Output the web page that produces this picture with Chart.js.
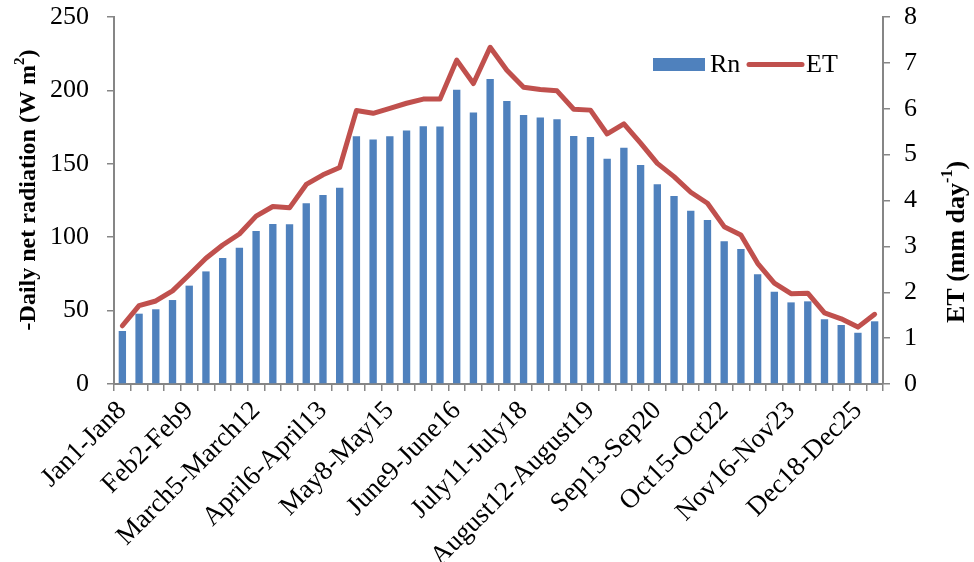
<!DOCTYPE html>
<html>
<head>
<meta charset="utf-8">
<title>Daily net radiation and ET</title>
<script src="https://cdn.jsdelivr.net/npm/chart.js@4.4.1/dist/chart.umd.min.js"></script>
<style>
  html, body { margin: 0; padding: 0; background: #fff; }
  #wrap { width: 974px; height: 562px; position: relative; }
</style>
</head>
<body>
<div id="wrap"><canvas id="c"></canvas></div>
<script>
// 8-day periods of the year
const periods = [
  'Jan1-Jan8', 'Jan9-Jan16', 'Jan17-Jan24', 'Jan25-Feb1',
  'Feb2-Feb9', 'Feb10-Feb17', 'Feb18-Feb25', 'Feb26-March4',
  'March5-March12', 'March13-March20', 'March21-March28', 'March29-April5',
  'April6-April13', 'April14-April21', 'April22-April29', 'April30-May7',
  'May8-May15', 'May16-May23', 'May24-May31', 'June1-June8',
  'June9-June16', 'June17-June24', 'June25-July2', 'July3-July10',
  'July11-July18', 'July19-July26', 'July27-August3', 'August4-August11',
  'August12-August19', 'August20-August27', 'August28-Sep4', 'Sep5-Sep12',
  'Sep13-Sep20', 'Sep21-Sep28', 'Sep29-Oct6', 'Oct7-Oct14',
  'Oct15-Oct22', 'Oct23-Oct30', 'Oct31-Nov7', 'Nov8-Nov15',
  'Nov16-Nov23', 'Nov24-Dec1', 'Dec2-Dec9', 'Dec10-Dec17',
  'Dec18-Dec25', 'Dec26-Dec31'
];

// Daily net radiation, W m-2
const rn = [
  36.1, 47.9, 50.9, 57.2, 67.0, 76.7, 85.8, 92.8,
  104.2, 109.0, 108.8, 123.1, 128.7, 133.7, 168.7, 166.6,
  168.8, 172.7, 175.6, 175.4, 200.4, 185.0, 207.7, 192.7,
  183.2, 181.6, 180.3, 168.9, 168.2, 153.4, 160.9, 149.1,
  136.0, 128.0, 118.0, 111.7, 97.2, 91.9, 74.7, 62.9,
  55.6, 56.3, 44.1, 40.2, 34.9, 42.7
];

// Evapotranspiration, mm day-1
const et = [
  1.27, 1.71, 1.81, 2.03, 2.38, 2.74, 3.03, 3.27,
  3.66, 3.87, 3.84, 4.35, 4.56, 4.72, 5.96, 5.90,
  6.01, 6.12, 6.21, 6.21, 7.06, 6.55, 7.34, 6.84,
  6.47, 6.42, 6.39, 5.99, 5.97, 5.45, 5.67, 5.25,
  4.81, 4.52, 4.18, 3.94, 3.43, 3.25, 2.63, 2.20,
  1.97, 1.98, 1.55, 1.42, 1.24, 1.52
];

// Axis ranges
const rnTicks = { min: 0, max: 250, step: 50 };
const etTicks = { min: 0, max: 8, step: 1 };
const labelEvery = 4;

const FONT = "'Liberation Serif', 'Times New Roman', serif";
const BAR_COLOR = '#4F81BD';
const LINE_COLOR = '#C0504D';
const AXIS_COLOR = '#868686';

// Draws a rotated title made of plain and superscript pieces
function drawRichVertical(ctx, cx, cy, parts, size) {
  ctx.save();
  ctx.translate(cx, cy);
  ctx.rotate(-Math.PI / 2);
  ctx.fillStyle = '#000';
  ctx.textBaseline = 'middle';
  ctx.textAlign = 'left';
  const mainFont = 'bold ' + size + 'px ' + FONT;
  const supFont = 'bold ' + Math.round(size * 0.62) + 'px ' + FONT;
  let total = 0;
  parts.forEach(p => {
    ctx.font = p.sup ? supFont : mainFont;
    p.w = ctx.measureText(p.text).width;
    total += p.w;
  });
  let x = -total / 2;
  parts.forEach(p => {
    ctx.font = p.sup ? supFont : mainFont;
    ctx.fillText(p.text, x, p.sup ? -size * 0.36 : 0);
    x += p.w;
  });
  ctx.restore();
}

// Vertical axes keep their labels outside the plot without extra top/bottom room
function fixedWidth(w) {
  return function (scale) {
    scale.width = w;
    scale.paddingTop = 0;
    scale.paddingBottom = 0;
  };
}

const decorations = {
  id: 'decorations',
  afterDraw(chart) {
    const ctx = chart.ctx;
    const area = chart.chartArea;

    // axis titles
    drawRichVertical(ctx, 29, 190, [
      { text: '-Daily net radiation (W m' },
      { text: '2', sup: true },
      { text: ')' }
    ], 24);
    drawRichVertical(ctx, 957, 242, [
      { text: 'ET (mm day' },
      { text: '-1', sup: true },
      { text: ')' }
    ], 26);

    // legend
    const lx = area.right - 230;
    const ly = area.top + 41;
    ctx.save();
    ctx.fillStyle = BAR_COLOR;
    ctx.fillRect(lx, ly, 52, 13);
    ctx.fillStyle = '#000';
    ctx.font = '26px ' + FONT;
    ctx.textBaseline = 'middle';
    ctx.textAlign = 'left';
    ctx.fillText('Rn', lx + 57, ly + 7);
    ctx.strokeStyle = LINE_COLOR;
    ctx.lineWidth = 5;
    ctx.lineCap = 'round';
    ctx.beginPath();
    ctx.moveTo(lx + 96, ly + 6.5);
    ctx.lineTo(lx + 149, ly + 6.5);
    ctx.stroke();
    ctx.fillText('ET', lx + 153, ly + 7);
    ctx.restore();
  }
};

new Chart(document.getElementById('c'), {
  type: 'bar',
  data: {
    labels: periods,
    datasets: [
      {
        type: 'line',
        label: 'ET',
        data: et,
        yAxisID: 'yET',
        borderColor: LINE_COLOR,
        backgroundColor: LINE_COLOR,
        borderWidth: 5,
        pointRadius: 0,
        tension: 0,
        borderJoinStyle: 'round',
        borderCapStyle: 'round',
        order: 0
      },
      {
        type: 'bar',
        label: 'Rn',
        data: rn,
        yAxisID: 'yRn',
        backgroundColor: BAR_COLOR,
        borderWidth: 0,
        categoryPercentage: 1.0,
        barPercentage: 0.44,
        order: 1
      }
    ]
  },
  options: {
    responsive: true,
    maintainAspectRatio: false,
    animation: false,
    layout: { padding: { top: 17, left: 0, right: 0, bottom: 0 } },
    plugins: {
      legend: { display: false },
      tooltip: { enabled: false }
    },
    scales: {
      x: {
        offset: true,
        grid: {
          offset: true,
          drawOnChartArea: false,
          drawTicks: true,
          tickLength: 7,
          color: AXIS_COLOR,
          lineWidth: 1.5
        },
        border: { color: AXIS_COLOR, width: 2 },
        ticks: {
          autoSkip: false,
          maxRotation: 45,
          minRotation: 45,
          padding: 4,
          color: '#000',
          font: { family: FONT, size: 27 },
          callback(value, index) {
            return index % labelEvery === 0 ? periods[index] : '';
          }
        },
        afterFit(scale) { scale.height = 178; }
      },
      yRn: {
        position: 'left',
        min: rnTicks.min,
        max: rnTicks.max,
        grid: {
          drawOnChartArea: false,
          drawTicks: true,
          tickLength: 7,
          color: AXIS_COLOR,
          lineWidth: 1.5
        },
        border: { color: AXIS_COLOR, width: 2 },
        ticks: {
          stepSize: rnTicks.step,
          padding: 18,
          color: '#000',
          font: { family: FONT, size: 26 }
        },
        afterFit: fixedWidth(114)
      },
      yET: {
        position: 'right',
        min: etTicks.min,
        max: etTicks.max,
        grid: {
          drawOnChartArea: false,
          drawTicks: true,
          tickLength: 7,
          color: AXIS_COLOR,
          lineWidth: 1.5
        },
        border: { color: AXIS_COLOR, width: 2 },
        ticks: {
          stepSize: etTicks.step,
          padding: 14,
          color: '#000',
          font: { family: FONT, size: 26 }
        },
        afterFit: fixedWidth(91)
      }
    }
  },
  plugins: [decorations]
});
</script>
</body>
</html>
